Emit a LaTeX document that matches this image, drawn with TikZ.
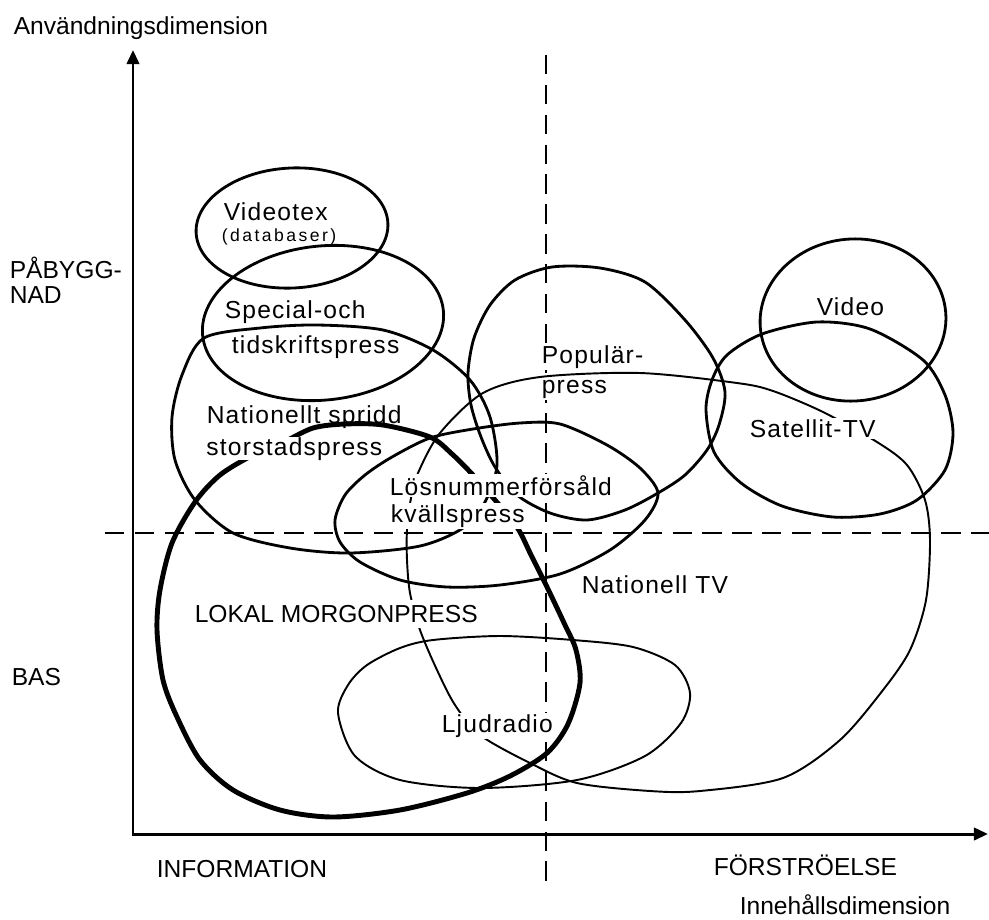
\documentclass[tikz,border=0pt]{standalone}
\usepackage{fontspec}
\setmainfont{Liberation Sans}
\newfontfamily\labelfont[LetterSpace=5]{Liberation Sans}
\newfontfamily\spacedfont[LetterSpace=14]{Liberation Sans}
\usetikzlibrary{arrows.meta}

\begin{document}
\begin{tikzpicture}[x=0.02cm,y=-0.02cm,
  lbl/.style={font=\labelfont\fontsize{14}{16}\selectfont,inner sep=0.8pt,anchor=base west},
  caps/.style={lbl,font=\fontsize{14}{16}\selectfont},
  mask/.style={fill=white},
  ring/.style={line width=1.6pt},
  thinring/.style={line width=1.1pt},
  boldring/.style={line width=2.8pt},
  axisline/.style={line width=1.7pt,{Triangle[length=8pt,width=7pt]}-{Triangle[length=8pt,width=7pt]}},
  dashline/.style={line width=1.2pt,dash pattern=on 11pt off 6pt}]
\useasboundingbox (0,0) rectangle (989,919);
% axes and quadrant lines
\coordinate (ytip) at (133,50);
\coordinate (origin) at (133,834);
\coordinate (xtip) at (988,834);
\draw[axisline] (ytip) -- (origin) -- (xtip);
\coordinate (vtop) at (546,55);
\coordinate (vbot) at (546,890);
\coordinate (hleft) at (105,533);
\coordinate (hright) at (989,533);
\draw[dashline] (vtop) -- (vbot);
\draw[dashline] (hleft) -- (hright);
% media areas
\draw[ring,rotate around={3:(292,228)}] (292,228) ellipse [x radius=96,y radius=60];
\draw[ring,rotate around={6:(323,323)}] (323,323) ellipse [x radius=121,y radius=77];
\draw[ring] plot[smooth cycle] coordinates {(204,338) (260,328) (317,325) (383,330) (433,350) (470,380) (490,417) (497,465) (485,502) (463,528) (420,546) (350,553) (290,548) (233,533) (195,500) (175,460) (172,417) (182,375)};
\draw[ring] plot[smooth cycle] coordinates {(335,520) (345,495) (365,475) (392,457) (430,438) (473,429) (520,423) (560,424) (607,445) (640,468) (658,493) (645,520) (610,550) (560,574) (500,585) (447,587) (400,580) (360,562) (340,542)};
\draw[ring] plot[smooth cycle] coordinates {(552,267) (600,268) (645,282) (685,320) (713,358) (725,392) (719,425) (707,450) (685,475) (658,493) (625,510) (587,520) (550,513) (517,495) (495,467) (481,437) (471,405) (468,373) (474,338) (490,305) (515,280)};
\draw[ring,rotate around={5:(853,320)}] (853,320) ellipse [x radius=93,y radius=81];
\draw[ring] plot[smooth cycle] coordinates {(706,410) (712,380) (727,355) (762,334) (817,322) (870,329) (923,360) (945,395) (953,433) (945,470) (917,500) (880,514) (833,517) (782,506) (741,483) (714,452)};
\draw[thinring] plot[smooth cycle] coordinates {(418,473) (440,433) (483,393) (540,377) (640,373) (737,383) (773,391) (823,412) (877,442) (907,465) (925,500) (930,540) (926,600) (910,650) (883,690) (840,740) (783,778) (700,791) (650,791) (577,783) (530,763) (480,735) (455,705) (437,670) (420,630) (410,593) (407,560) (407,530) (411,498)};
\draw[thinring] plot[smooth cycle] coordinates {(338,713) (348,685) (367,665) (400,648) (433,640) (500,636) (573,640) (633,647) (675,665) (690,693) (681,723) (645,756) (577,780) (480,788) (400,780) (355,756)};
\draw[boldring] plot[smooth cycle] coordinates {(282,443) (253,455) (220,475) (195,502) (172,543) (160,590) (157,630) (163,680) (177,717) (200,760) (233,790) (280,810) (333,817) (400,810) (467,793) (510,776) (547,753) (568,724) (580,683) (576,650) (565,625) (547,587) (532,557) (517,527) (495,500) (473,475) (452,454) (430,437) (383,425) (345,424) (313,428)};
% labels
\node[caps] (ylabel) at (12,35) {Användningsdimension};
\node[caps] (pabygg) at (8,278) {PÅBYGG-};
\node[caps] (nad) at (8,303) {NAD};
\node[caps] (bas) at (10,685) {BAS};
\node[caps] (information) at (155,877) {INFORMATION};
\node[caps] (forstroelse) at (712,875) {FÖRSTRÖELSE};
\node[caps] (xlabel) at (738,914) {Innehållsdimension};
\node[lbl] (videotex) at (222,220) {Videotex};
\node[lbl,font=\spacedfont\fontsize{10}{12}\selectfont] (databaser) at (220,241) {(databaser)};
\node[lbl] (special) at (223,318) {Special-och};
\node[lbl] (tidskrift) at (230,353) {tidskriftspress};
\node[lbl] (nationellt) at (205,423) {Nationellt spridd};
\node[lbl,mask,inner sep=0pt] (storstad) at (206,455) {storstadspress};
\node[lbl,mask] (popular) at (540,363) {Populär-};
\node[lbl,mask] (press) at (540,393) {press};
\node[lbl] (video) at (815,315) {Video};
\node[lbl,mask] (satellit) at (748,437) {Satellit-TV};
\node[lbl,mask] (losnummer) at (388,495) {Lösnummerförsåld};
\node[lbl,mask] (kvallspress) at (389,522) {kvällspress};
\node[lbl] (nationelltv) at (580,593) {Nationell TV};
\node[caps,mask,inner ysep=3pt] (lokal) at (193,622) {LOKAL MORGONPRESS};
\node[lbl,mask] (ljudradio) at (440,732) {Ljudradio};
\end{tikzpicture}
\end{document}
